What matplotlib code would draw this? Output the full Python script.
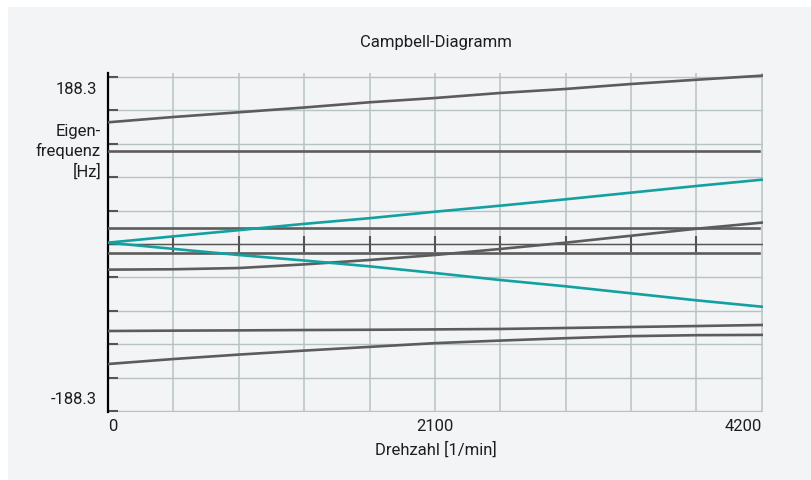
import matplotlib
matplotlib.use("Agg")
import matplotlib.pyplot as plt
from matplotlib.patches import Rectangle
from matplotlib.ticker import FixedLocator, NullFormatter

plt.rcParams['font.family'] = ['Roboto', 'DejaVu Sans']

# ---------------- data ----------------
title = "Campbell-Diagramm"
x_label = "Drehzahl [1/min]"
y_label = "Eigen-\nfrequenz\n[Hz]"
y_max = 188.3
x_max = 4200
x_tick_labels = ["0", "2100", "4200"]
x_tick_values = [0, 2100, 4200]

rpm = [0, 420, 840, 1260, 1680, 2100, 2520, 2940, 3360, 3780, 4200]
mode_top = [137.2, 143.2, 148.5, 153.9, 159.8, 164.6, 170.3, 174.8, 180.4, 185.2, 189.8]
mode_flat_hi = [104.5, 104.5]
mode_flat_mid = [17.7, 17.7]
mode_flat_lo = [-10.5, -10.5]
flat_rpm = [0, 4180]
mode_rising = [-28.9, -28.5, -27.1, -23.0, -18.0, -12.4, -5.6, 1.5, 9.3, 17.2, 24.1]
teal_forward = [1.5, 8.6, 15.6, 22.7, 29.1, 36.4, 43.2, 50.4, 57.9, 65.4, 72.5]
teal_backward = [1.5, -5.5, -12.4, -18.6, -25.2, -32.7, -40.6, -47.7, -55.6, -63.5, -70.7]
mode_low_a = [-98.1, -97.7, -97.4, -97.0, -96.7, -96.3, -95.8, -94.7, -93.6, -92.5, -91.3]
mode_low_b = [-135.3, -129.7, -124.7, -120.2, -116.0, -111.8, -108.9, -106.2, -103.9, -102.8, -102.5]

# ---------------- style ----------------
W, H = 811, 481
GRAY = "#5c5c5c"
TEAL = "#13a0a0"
GRID = "#b7c3c3"
PANEL = "#f3f4f6"
TXT = "#1e1e1e"
FS = 12

fig = plt.figure(figsize=(W / 100, H / 100), dpi=100)
fig.patch.set_facecolor("white")
fig.patches.append(Rectangle((8 / W, 0), 1 - 8 / W, 1 - 8 / H, transform=fig.transFigure,
                             facecolor=PANEL, edgecolor="none", zorder=-10))

ax_left, ax_right = 108 / W, 763 / W
ax_bottom, ax_top = (H - 412.5) / H, (H - 74) / H
ax = fig.add_axes([ax_left, ax_bottom, ax_right - ax_left, ax_top - ax_bottom])
ax.set_facecolor("none")

y_per_px = (2 * y_max) / (412 - 78)
ax.set_xlim(0, x_max + 8)
ax.set_ylim(-y_max - 0.5 * y_per_px, y_max + 4 * y_per_px)

# grid
step_y = 2 * y_max / 10
yt = [-y_max + i * step_y for i in range(11)]
xt = [i * x_max / 10 for i in range(11)]
for y in yt:
    ax.axhline(y, color=GRID, lw=1.0, zorder=1)
for x in xt[1:]:
    ax.axvline(x, color=GRID, lw=1.1, zorder=1)

# zero axis with ticks
ax.axhline(0, color="#555555", lw=1.0, zorder=2)
ax.vlines(xt[1:-1], -9, 9, color="#555555", lw=1.5, zorder=2)

# spines / ticks
for s in ["top", "right", "bottom"]:
    ax.spines[s].set_visible(False)
ax.spines["left"].set_color("black")
ax.spines["left"].set_linewidth(1.6)
ax.yaxis.set_major_locator(FixedLocator(yt))
ax.yaxis.set_major_formatter(NullFormatter())
ax.tick_params(axis="y", direction="in", length=7.5, width=1.5, color="#555555")
ax.set_xticks([])

# modes
lw = 1.9
ax.plot(rpm, mode_top, color=GRAY, lw=lw, zorder=3)
ax.plot(flat_rpm, mode_flat_hi, color=GRAY, lw=lw, zorder=3)
ax.plot(flat_rpm, mode_flat_mid, color=GRAY, lw=lw, zorder=3)
ax.plot(flat_rpm, mode_flat_lo, color=GRAY, lw=lw, zorder=3)
ax.plot(rpm, mode_rising, color=GRAY, lw=lw, zorder=3)
ax.plot(rpm, mode_low_a, color=GRAY, lw=lw, zorder=3)
ax.plot(rpm, mode_low_b, color=GRAY, lw=lw, zorder=3)
ax.plot(rpm, teal_forward, color=TEAL, lw=lw, zorder=4)
ax.plot(rpm, teal_backward, color=TEAL, lw=lw, zorder=4)

# texts
blend_y = ax.get_yaxis_transform()
ax.annotate(f"{y_max}", xy=(0, y_max), xycoords=blend_y, xytext=(-11, -11),
            textcoords="offset pixels", ha="right", va="center", fontsize=FS, color=TXT)
ax.annotate(f"-{y_max}", xy=(0, -y_max), xycoords=blend_y, xytext=(-11, 12),
            textcoords="offset pixels", ha="right", va="center", fontsize=FS, color=TXT)
fig.text(101 / W, 1 - 152 / H, y_label, ha="right", va="center", fontsize=FS,
         color=TXT, linespacing=1.3, multialignment="right")

has = ["left", "center", "right"]
for lab, val, ha in zip(x_tick_labels, x_tick_values, has):
    ax.annotate(lab, xy=(val, 0), xycoords=ax.get_xaxis_transform(), xytext=(0, -14),
                textcoords="offset pixels", ha=ha, va="center", fontsize=FS, color=TXT)

fig.text((ax_left + ax_right) / 2, 1 - 450 / H, x_label, ha="center", va="center",
         fontsize=FS, color=TXT)
fig.text((ax_left + ax_right) / 2, 1 - 42 / H, title, ha="center", va="center",
         fontsize=FS, color=TXT)

fig.savefig("out.png", dpi=100)
